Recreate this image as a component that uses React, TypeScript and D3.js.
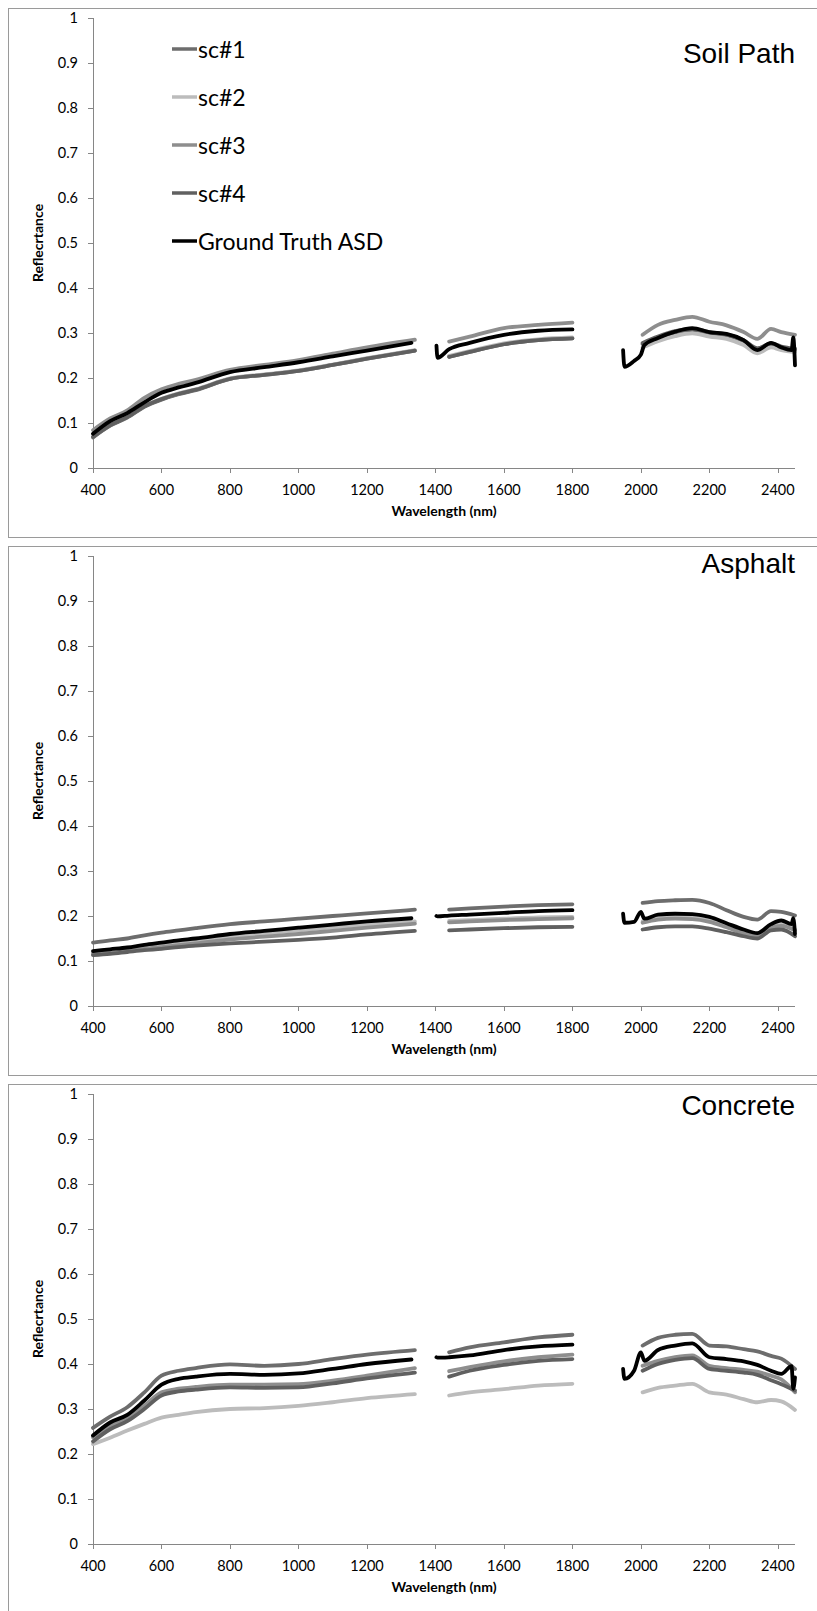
import React from 'react';
import * as d3 from 'd3';

// wavelengths (nm) sampled for the sensor curves and for the ASD ground truth
const scWavelengths = [400, 450, 500, 550, 600, 650, 700, 800, 900, 1000, 1100, 1200, 1340,
  1440, 1500, 1600, 1700, 1800,
  2005, 2050, 2100, 2150, 2200, 2250, 2300, 2340, 2380, 2410, 2450];
const gtWavelengths = [400, 450, 500, 550, 600, 650, 700, 800, 900, 1000, 1100, 1200, 1330,
  1403, 1406, 1440, 1500, 1600, 1700, 1800,
  1948, 1952, 1980, 2000, 2010, 2050, 2100, 2150, 2200, 2250, 2300, 2340, 2380, 2410, 2440, 2445, 2450];

// water absorption gaps split every curve into these ranges
const segments = [[395, 1345], [1395, 1805], [1940, 2455]];

const soilSc1 = [0.068, 0.094, 0.112, 0.136, 0.152, 0.164, 0.173, 0.198, 0.207, 0.216, 0.229, 0.243, 0.261,
  0.247, 0.258, 0.275, 0.284, 0.288,
  0.275, 0.290, 0.301, 0.307, 0.300, 0.295, 0.282, 0.265, 0.275, 0.268, 0.262];
const soilSc2 = [0.070, 0.096, 0.114, 0.138, 0.154, 0.166, 0.175, 0.199, 0.208, 0.217, 0.230, 0.244, 0.262,
  0.249, 0.260, 0.277, 0.286, 0.290,
  0.268, 0.282, 0.293, 0.299, 0.292, 0.287, 0.273, 0.255, 0.268, 0.262, 0.258];
const soilSc3 = [0.084, 0.110, 0.128, 0.156, 0.175, 0.187, 0.196, 0.218, 0.229, 0.240, 0.254, 0.268, 0.285,
  0.281, 0.292, 0.311, 0.318, 0.323,
  0.296, 0.318, 0.329, 0.336, 0.325, 0.317, 0.302, 0.287, 0.309, 0.302, 0.296];
const soilSc4 = [0.069, 0.095, 0.113, 0.137, 0.153, 0.165, 0.174, 0.198, 0.207, 0.216, 0.229, 0.243, 0.261,
  0.247, 0.258, 0.275, 0.284, 0.288,
  0.278, 0.292, 0.304, 0.309, 0.302, 0.297, 0.284, 0.266, 0.277, 0.270, 0.265];
const soilGt = [0.076, 0.104, 0.122, 0.146, 0.167, 0.179, 0.189, 0.213, 0.224, 0.235, 0.248, 0.261, 0.278,
  0.272, 0.245, 0.264, 0.278, 0.296, 0.305, 0.308,
  0.262, 0.225, 0.238, 0.252, 0.273, 0.289, 0.303, 0.311, 0.302, 0.298, 0.284, 0.262, 0.278, 0.268, 0.262, 0.290, 0.228];

const asphaltSc1 = [0.141, 0.146, 0.150, 0.157, 0.163, 0.168, 0.173, 0.182, 0.188, 0.194, 0.200, 0.206, 0.214,
  0.214, 0.217, 0.221, 0.224, 0.226,
  0.229, 0.233, 0.235, 0.236, 0.229, 0.213, 0.198, 0.192, 0.211, 0.209, 0.201];
const asphaltSc2 = [0.118, 0.121, 0.125, 0.130, 0.135, 0.140, 0.144, 0.154, 0.161, 0.168, 0.175, 0.181, 0.188,
  0.189, 0.191, 0.194, 0.197, 0.198,
  0.188, 0.195, 0.197, 0.196, 0.190, 0.178, 0.165, 0.157, 0.176, 0.180, 0.170];
const asphaltSc3 = [0.115, 0.118, 0.122, 0.127, 0.131, 0.135, 0.139, 0.148, 0.154, 0.160, 0.167, 0.174, 0.183,
  0.186, 0.188, 0.191, 0.193, 0.195,
  0.185, 0.192, 0.194, 0.193, 0.187, 0.175, 0.162, 0.155, 0.174, 0.178, 0.168];
const asphaltSc4 = [0.113, 0.116, 0.120, 0.124, 0.127, 0.131, 0.134, 0.139, 0.143, 0.147, 0.152, 0.159, 0.167,
  0.168, 0.170, 0.173, 0.175, 0.176,
  0.170, 0.175, 0.177, 0.177, 0.172, 0.164, 0.155, 0.150, 0.168, 0.170, 0.155];
const asphaltGt = [0.122, 0.126, 0.130, 0.136, 0.141, 0.146, 0.150, 0.160, 0.167, 0.174, 0.181, 0.188, 0.195,
  0.200, 0.199, 0.201, 0.203, 0.207, 0.211, 0.213,
  0.205, 0.185, 0.187, 0.209, 0.194, 0.203, 0.205, 0.204, 0.198, 0.184, 0.170, 0.162, 0.182, 0.190, 0.182, 0.195, 0.160];

const concreteSc1 = [0.258, 0.283, 0.304, 0.337, 0.374, 0.385, 0.391, 0.399, 0.396, 0.400, 0.411, 0.421, 0.431,
  0.426, 0.437, 0.448, 0.459, 0.465,
  0.441, 0.458, 0.465, 0.467, 0.441, 0.439, 0.433, 0.428, 0.418, 0.412, 0.389];
const concreteSc2 = [0.222, 0.236, 0.252, 0.267, 0.281, 0.287, 0.293, 0.300, 0.302, 0.307, 0.315, 0.324, 0.333,
  0.330, 0.337, 0.344, 0.352, 0.356,
  0.337, 0.347, 0.352, 0.356, 0.337, 0.332, 0.322, 0.315, 0.320, 0.317, 0.298];
const concreteSc3 = [0.237, 0.262, 0.280, 0.307, 0.337, 0.345, 0.349, 0.354, 0.354, 0.355, 0.363, 0.374, 0.391,
  0.384, 0.393, 0.406, 0.415, 0.421,
  0.396, 0.407, 0.415, 0.419, 0.396, 0.391, 0.387, 0.383, 0.374, 0.366, 0.337];
const concreteSc4 = [0.228, 0.255, 0.273, 0.300, 0.330, 0.339, 0.343, 0.348, 0.347, 0.348, 0.357, 0.368, 0.381,
  0.372, 0.385, 0.398, 0.407, 0.411,
  0.385, 0.400, 0.409, 0.413, 0.389, 0.385, 0.381, 0.376, 0.364, 0.355, 0.341];
const concreteGt = [0.241, 0.270, 0.287, 0.319, 0.354, 0.367, 0.372, 0.378, 0.376, 0.379, 0.389, 0.400, 0.410,
  0.415, 0.414, 0.415, 0.419, 0.431, 0.439, 0.443,
  0.389, 0.367, 0.385, 0.426, 0.407, 0.431, 0.441, 0.446, 0.415, 0.411, 0.406, 0.398, 0.385, 0.378, 0.395, 0.345, 0.370];

const seriesNames = ['sc#1', 'sc#2', 'sc#3', 'sc#4', 'Ground Truth ASD'];
const seriesColors = ['#6d6d6d', '#bcbcbc', '#8e8e8e', '#606060', '#000000'];

const xTicks = [400, 600, 800, 1000, 1200, 1400, 1600, 1800, 2000, 2200, 2400];
const yTicks = [0, 0.1, 0.2, 0.3, 0.4, 0.5, 0.6, 0.7, 0.8, 0.9, 1];

const panels = [
  { title: 'Soil Path', top: 8, titleY: 55, legend: true, series: [soilSc1, soilSc2, soilSc3, soilSc4, soilGt] },
  { title: 'Asphalt', top: 546, titleY: 27, legend: false, series: [asphaltSc1, asphaltSc2, asphaltSc3, asphaltSc4, asphaltGt] },
  { title: 'Concrete', top: 1084, titleY: 31, legend: false, series: [concreteSc1, concreteSc2, concreteSc3, concreteSc4, concreteGt] },
];

const W = 817;
const H = 1611;
const axisColor = '#868686';
const tickFont = 'Lato, "Open Sans", sans-serif';

const x = d3.scaleLinear().domain([400, 2450]).range([93, 795]);

function Panel({ p }: { p: typeof panels[number] }) {
  const y = d3.scaleLinear().domain([0, 1]).range([p.top + 460, p.top + 10]);
  const line = d3.line<[number, number]>()
    .x(d => x(d[0]))
    .y(d => y(d[1]))
    .curve(d3.curveMonotoneX);
  const y0 = y(0);

  return (
    <g>
      <rect x={8.5} y={p.top + 0.5} width={900} height={529} fill="#fff" stroke="#9a9a9a" strokeWidth={1} />

      {/* axes */}
      <line x1={x(400)} x2={x(2450)} y1={y0 + 0.5} y2={y0 + 0.5} stroke={axisColor} />
      <line x1={x(400) + 0.5} x2={x(400) + 0.5} y1={y(1)} y2={y0} stroke={axisColor} />
      {yTicks.map(t => (
        <g key={'y' + t}>
          <line x1={x(400) - 5} x2={x(400)} y1={Math.round(y(t)) + 0.5} y2={Math.round(y(t)) + 0.5} stroke={axisColor} />
          <text x={x(400) - 15} y={y(t) + 5} textAnchor="end" fontFamily={tickFont} fontSize={14.5} fill="#000">{t}</text>
        </g>
      ))}
      {xTicks.map(t => (
        <g key={'x' + t}>
          <line x1={Math.round(x(t)) + 0.5} x2={Math.round(x(t)) + 0.5} y1={y0} y2={y0 + 5} stroke={axisColor} />
          <text x={x(t)} y={y0 + 27} textAnchor="middle" fontFamily={tickFont} fontSize={14.5} fill="#000">{t}</text>
        </g>
      ))}
      <text x={(x(400) + x(2450)) / 2} y={y0 + 48} textAnchor="middle" fontFamily={tickFont} fontWeight="bold" fontSize={14}>Wavelength (nm)</text>
      <text transform={`translate(43, ${(y(0) + y(1)) / 2}) rotate(-90)`} textAnchor="middle" fontFamily={tickFont} fontWeight="bold" fontSize={14}>Reflecrtance</text>

      {/* spectra */}
      {p.series.map((vals, si) => {
        const wl = si === 4 ? gtWavelengths : scWavelengths;
        const pts: [number, number][] = wl.map((w, i) => [w, vals[i]]);
        return segments.map(([a, b], k) => {
          const seg = pts.filter(d => d[0] >= a && d[0] <= b);
          return (
            <path key={si + '-' + k} d={line(seg) || ''} fill="none" stroke={seriesColors[si]}
              strokeWidth={si === 4 ? 3.8 : 3.8} strokeLinejoin="round" strokeLinecap="round" />
          );
        });
      })}

      <text x={795} y={p.top + p.titleY} textAnchor="end" fontFamily='"Liberation Sans", Arial, sans-serif' fontSize={28} fill="#000">{p.title}</text>

      {p.legend && seriesNames.map((name, i) => (
        <g key={name} transform={`translate(172, ${p.top + 41 + i * 48})`}>
          <line x1={0} x2={25} y1={0} y2={0} stroke={seriesColors[i]} strokeWidth={3.5} />
          <text x={26} y={8.5} fontFamily={tickFont} fontSize={23} fill="#000">{name}</text>
        </g>
      ))}
    </g>
  );
}

export default function App() {
  return (
    <svg width={W} height={H} style={{ position: 'absolute', left: 0, top: 0, background: '#fff' }}>
      <rect x={0} y={0} width={W} height={H} fill="#fff" />
      {panels.map(p => <Panel key={p.title} p={p} />)}
    </svg>
  );
}
